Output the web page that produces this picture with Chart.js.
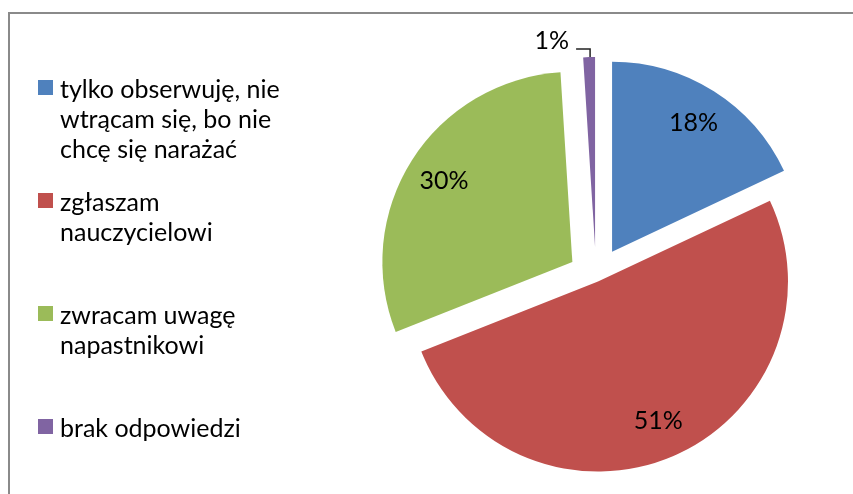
<!DOCTYPE html>
<html lang="pl">
<head>
    <meta charset="UTF-8">
    <title>Reakcja świadków przemocy</title>
    <script src="https://cdn.jsdelivr.net/npm/chart.js"></script>
    <style>
        html, body {
            margin: 0;
            padding: 0;
            background: #fff;
            overflow: hidden;
        }
        body {
            position: relative;
            width: 853px;
            height: 494px;
            font-family: Lato, "Open Sans", sans-serif;
        }
        .frame {
            position: absolute;
            left: 8px;
            top: 12px;
            width: 900px;
            height: 600px;
            border-left: 2px solid #8a8a8a;
            border-top: 2px solid #8a8a8a;
        }
        #pieChart {
            position: absolute;
            left: 0;
            top: 0;
        }
        .legend {
            position: absolute;
            left: 38px;
            top: 73px;
        }
        .legend-item {
            position: relative;
            height: 113px;
            padding-left: 22px;
            font-size: 25px;
            line-height: 30px;
            color: #000;
            white-space: nowrap;
        }
        .legend-item .box {
            position: absolute;
            left: 0;
            top: 7px;
            width: 15px;
            height: 15px;
        }
    </style>
</head>
<body>
    <div class="frame"></div>
    <canvas id="pieChart" width="853" height="494"></canvas>
    <div class="legend" id="legend"></div>

    <script>
        // answers, one line per array entry as they wrap in the legend
        const answers = [
            ['tylko obserwuję, nie', 'wtrącam się, bo nie', 'chcę się narażać'],
            ['zgłaszam', 'nauczycielowi'],
            ['zwracam uwagę', 'napastnikowi'],
            ['brak odpowiedzi']
        ];
        const shares = [18, 51, 30, 1]; // percent
        const sliceColors = ['#4f81bd', '#c0504d', '#9bbb59', '#8064a2'];

        // how far each slice is pulled out of the pie, in px
        const explode = [30, 5, 28, 30];

        // legend on the left
        const legendEl = document.getElementById('legend');
        answers.forEach((lines, i) => {
            const item = document.createElement('div');
            item.className = 'legend-item';
            const box = document.createElement('span');
            box.className = 'box';
            box.style.background = sliceColors[i];
            item.appendChild(box);
            lines.forEach(line => {
                const row = document.createElement('div');
                row.textContent = line;
                item.appendChild(row);
            });
            legendEl.appendChild(item);
        });

        // draws every arc shifted outwards along its middle angle
        const explodePlugin = {
            id: 'explodeSlices',
            beforeDatasetDraw(chart, args, opts) {
                const ctx = chart.ctx;
                args.meta.data.forEach((arc, i) => {
                    const mid = (arc.startAngle + arc.endAngle) / 2;
                    const d = opts.distance[i] || 0;
                    ctx.save();
                    ctx.translate(Math.cos(mid) * d, Math.sin(mid) * d);
                    arc.draw(ctx);
                    ctx.restore();
                });
                return false;
            },
            afterDraw(chart, args, opts) {
                const ctx = chart.ctx;
                const meta = chart.getDatasetMeta(0);
                const values = chart.data.datasets[0].data;
                ctx.save();
                ctx.font = '25px Lato, "Open Sans", sans-serif';
                ctx.fillStyle = '#000';
                ctx.strokeStyle = '#222';
                ctx.lineWidth = 1.5;
                meta.data.forEach((arc, i) => {
                    const mid = (arc.startAngle + arc.endAngle) / 2;
                    const d = opts.distance[i] || 0;
                    const cx = arc.x + Math.cos(mid) * d;
                    const cy = arc.y + Math.sin(mid) * d;
                    const text = values[i] + '%';
                    if (values[i] >= 5) {
                        const r = arc.outerRadius * 0.8;
                        ctx.textAlign = 'center';
                        ctx.textBaseline = 'alphabetic';
                        ctx.fillText(text, cx + Math.cos(mid) * r, cy + Math.sin(mid) * r + 8);
                    } else {
                        // thin slice: label outside with a bent leader line
                        const ox = cx + Math.cos(mid) * arc.outerRadius;
                        const oy = cy + Math.sin(mid) * arc.outerRadius;
                        ctx.beginPath();
                        ctx.moveTo(ox + 1, oy);
                        ctx.lineTo(ox + 1, oy - 8);
                        ctx.lineTo(ox - 13, oy - 8);
                        ctx.stroke();
                        ctx.textAlign = 'right';
                        ctx.textBaseline = 'alphabetic';
                        ctx.fillText(text, ox - 20, oy - 8);
                    }
                });
                ctx.restore();
            }
        };

        const pieChart = new Chart(document.getElementById('pieChart'), {
            type: 'pie',
            data: {
                labels: answers,
                datasets: [{
                    data: shares,
                    backgroundColor: sliceColors,
                    borderWidth: 0
                }]
            },
            options: {
                responsive: false,
                animation: false,
                events: [],
                radius: 190,
                layout: {
                    padding: { left: 391, right: 52, top: 72, bottom: 12 }
                },
                plugins: {
                    legend: { display: false },
                    tooltip: { enabled: false },
                    explodeSlices: { distance: explode }
                }
            },
            plugins: [explodePlugin]
        });
    </script>
</body>
</html>
